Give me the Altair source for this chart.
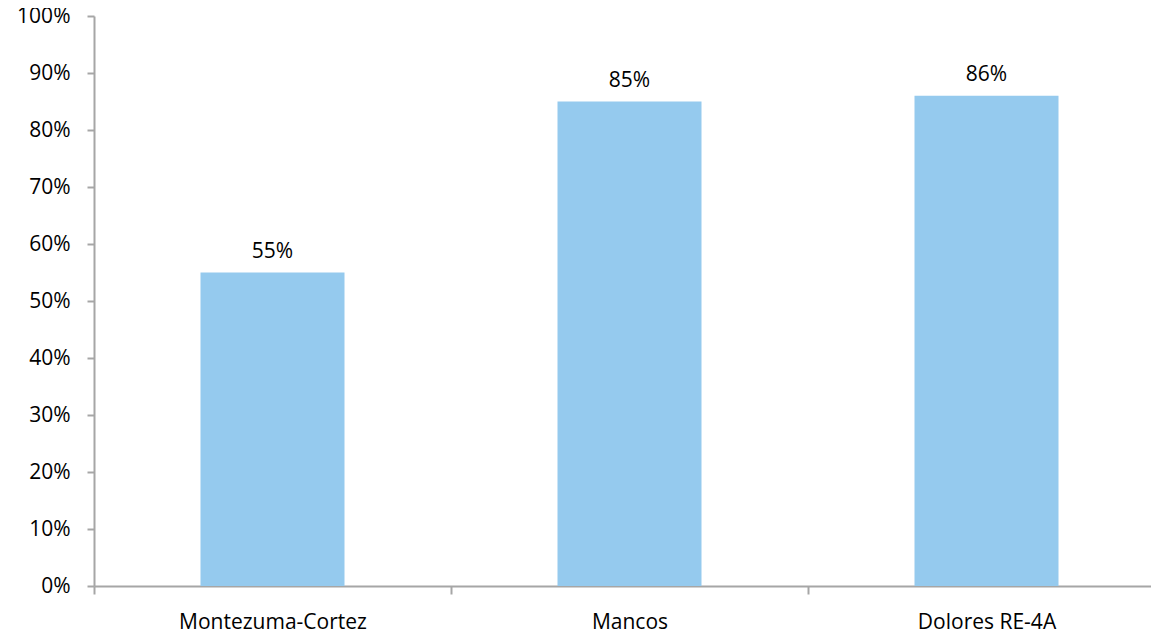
import altair as alt
import pandas as pd

categories = ["Montezuma-Cortez", "Mancos", "Dolores RE-4A"]
values = [0.55, 0.85, 0.86]
y_ticks = [0, 0.1, 0.2, 0.3, 0.4, 0.5, 0.6, 0.7, 0.8, 0.9, 1.0]

df = pd.DataFrame({"district": categories, "value": values})

FONT = "Open Sans"
FS = 21
GRAY = "#a6a6a6"

x = alt.X(
    "district:N",
    sort=categories,
    scale=alt.Scale(range=[0, 1071], paddingInner=0, paddingOuter=0),
    axis=alt.Axis(
        title=None,
        labelAngle=0,
        labelLimit=0,
        tickBand="extent",
        tickSize=8,
        tickWidth=2,
        tickColor=GRAY,
        domainColor=GRAY,
        domainWidth=2,
        labelPadding=17,
        labelFont=FONT,
        labelFontSize=FS,
        labelColor="#000000",
    ),
)
y = alt.Y(
    "value:Q",
    scale=alt.Scale(domain=[0, 1], nice=False),
    axis=alt.Axis(
        title=None,
        values=y_ticks,
        format=".0%",
        grid=False,
        tickSize=7,
        tickWidth=2,
        tickColor=GRAY,
        domainColor=GRAY,
        domainWidth=2,
        labelPadding=17,
        labelFont=FONT,
        labelFontSize=FS,
        labelColor="#000000",
    ),
)

bars = alt.Chart(df).mark_bar(size=144, color="#95caee").encode(x=x, y=y)
labels = alt.Chart(df).mark_text(
    dy=-15, baseline="alphabetic", font=FONT, fontSize=FS, color="#000000"
).encode(x=x, y=y, text=alt.Text("value:Q", format=".0%"))

chart = (
    alt.layer(bars, labels)
    .properties(
        width=1057,
        height=570,
        autosize=alt.AutoSizeParams(type="none"),
        padding={"left": 86, "top": 8, "right": 0, "bottom": 46},
    )
    .configure_view(stroke=None)
)

chart.save("out.html", embed_options={"renderer": "svg", "actions": False})
